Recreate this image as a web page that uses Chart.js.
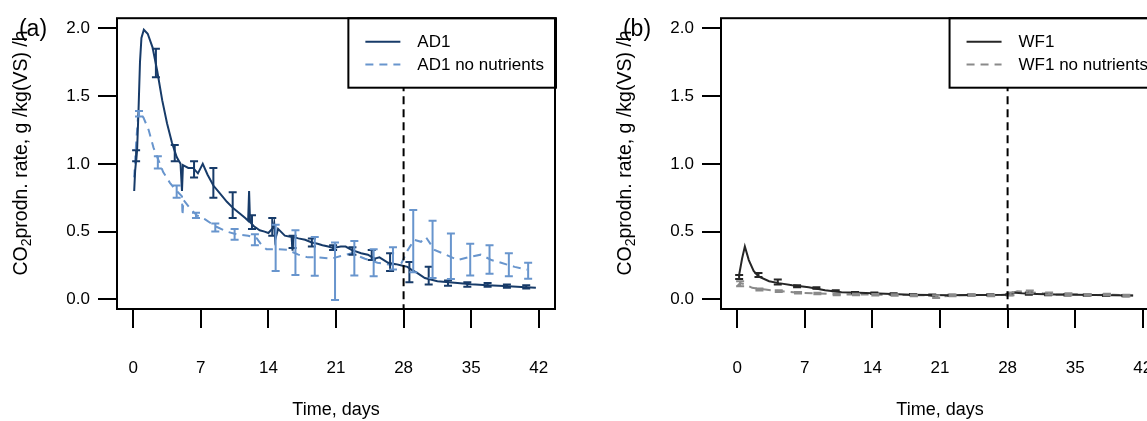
<!DOCTYPE html>
<html>
<head>
<meta charset="utf-8">
<script src="https://cdn.jsdelivr.net/npm/chart.js@4.4.1/dist/chart.umd.min.js"></script>
<style>
  html, body { margin: 0; padding: 0; background: #fff; overflow: hidden; }
  #wrap { position: relative; width: 1147px; height: 421px; overflow: hidden; }
  .panel { position: absolute; top: 0; width: 604px; height: 421px; }
</style>
</head>
<body>
<div id="wrap">
  <div class="panel" style="left:0"><canvas id="chartA" width="604" height="421"></canvas></div>
  <div class="panel" style="left:604px"><canvas id="chartB" width="604" height="421"></canvas></div>
</div>
<script>
// axis ticks
const xTicks = [0, 7, 14, 21, 28, 35, 42];
const yTicks = [0, 0.5, 1.0, 1.5, 2.0];
const cutoffDay = 28;

// AD1 (with nutrients)
const ad1Days = [0.1, 0.2, 0.4, 0.55, 0.7, 0.85, 1.1, 1.5, 2.0, 2.5, 3.0, 3.5, 4.0, 4.5, 4.9, 5.05, 5.15, 5.7, 6.2, 6.7, 7.2, 7.7, 8.3, 9.0, 9.7, 10.4, 11.1, 11.6, 11.9, 12.0, 12.1, 12.5, 13.1, 13.6, 14.0, 14.5, 14.6, 14.7, 15.0, 15.7, 16.4, 16.5, 16.6, 17.1, 17.8, 18.5, 19.1, 19.6, 20.2, 20.7, 21.5, 22.0, 22.6, 23.6, 24.3, 25.0, 25.5, 26.4, 27.2, 27.8, 28.4, 28.8, 29.4, 30.2, 31.5, 33.3, 35.0, 36.7, 38.4, 40.2, 41.7];
const ad1Rate = [0.80, 0.95, 1.10, 1.40, 1.75, 1.93, 1.99, 1.96, 1.86, 1.68, 1.47, 1.30, 1.16, 1.05, 1.00, 0.80, 0.99, 0.97, 0.97, 0.93, 1.00, 0.92, 0.84, 0.78, 0.72, 0.67, 0.63, 0.60, 0.58, 0.80, 0.57, 0.54, 0.51, 0.50, 0.49, 0.53, 0.56, 0.44, 0.52, 0.47, 0.46, 0.36, 0.46, 0.45, 0.44, 0.42, 0.41, 0.40, 0.39, 0.38, 0.39, 0.39, 0.365, 0.34, 0.33, 0.30, 0.31, 0.27, 0.26, 0.25, 0.24, 0.22, 0.195, 0.158, 0.134, 0.122, 0.112, 0.105, 0.098, 0.092, 0.085];
const ad1ErrDays = [0.3, 2.35, 4.3, 6.3, 8.3, 10.3, 12.3, 14.4, 16.5, 18.5, 20.7, 22.7, 24.7, 26.6, 28.6, 30.6, 32.6, 34.6, 36.7, 38.7, 40.7];
const ad1ErrLow = [1.02, 1.64, 1.02, 0.90, 0.75, 0.60, 0.52, 0.47, 0.38, 0.39, 0.365, 0.33, 0.29, 0.21, 0.126, 0.11, 0.10, 0.093, 0.093, 0.085, 0.08];
const ad1ErrHigh = [1.10, 1.85, 1.14, 1.02, 0.97, 0.79, 0.62, 0.60, 0.47, 0.45, 0.40, 0.385, 0.365, 0.34, 0.275, 0.24, 0.14, 0.126, 0.12, 0.11, 0.105];

// AD1 no nutrients
const ad1nnDays = [0.1, 0.3, 0.5, 0.7, 1.07, 1.6, 2.1, 2.6, 3.1, 3.8, 4.5, 5.05, 5.1, 5.2, 5.9, 6.6, 7.45, 8.5, 9.7, 10.7, 11.9, 12.8, 13.3, 13.8, 15.0, 16.0, 17.1, 18.1, 19.1, 20.5, 21.5, 22.6, 24.0, 25.3, 26.7, 27.8, 28.4, 29.1, 29.8, 30.3, 31.2, 32.2, 33.6, 35.0, 36.0, 37.1, 38.1, 39.5, 40.8];
const ad1nnRate = [0.90, 1.15, 1.35, 1.38, 1.34, 1.25, 1.12, 1.03, 0.94, 0.86, 0.80, 0.76, 0.62, 0.735, 0.67, 0.62, 0.59, 0.54, 0.50, 0.48, 0.47, 0.45, 0.40, 0.37, 0.37, 0.365, 0.33, 0.31, 0.31, 0.30, 0.32, 0.34, 0.30, 0.27, 0.255, 0.27, 0.36, 0.44, 0.425, 0.46, 0.365, 0.335, 0.29, 0.316, 0.33, 0.29, 0.27, 0.24, 0.22];
const ad1nnErrDays = [0.6, 2.55, 4.5, 6.5, 8.5, 10.5, 12.6, 14.75, 16.8, 18.8, 20.9, 22.9, 24.9, 26.9, 29.0, 31.0, 32.9, 34.9, 36.9, 38.9, 40.9];
const ad1nnErrLow = [1.35, 0.966, 0.75, 0.60, 0.50, 0.44, 0.40, 0.21, 0.18, 0.175, -0.005, 0.177, 0.17, 0.22, 0.20, 0.158, 0.151, 0.177, 0.19, 0.17, 0.153];
const ad1nnErrHigh = [1.39, 1.056, 0.84, 0.64, 0.56, 0.52, 0.48, 0.55, 0.51, 0.46, 0.42, 0.43, 0.37, 0.385, 0.66, 0.58, 0.487, 0.41, 0.40, 0.34, 0.27];

// WF1 (with nutrients)
const wf1Days = [0.17, 0.5, 0.79, 1.2, 1.7, 2.2, 3.3, 4.3, 5.7, 7.4, 9.1, 10.8, 12.6, 14, 16, 18, 20, 22, 24, 26, 28, 28.5, 29.5, 31, 33, 35, 37, 39, 41];
const wf1Rate = [0.17, 0.30, 0.39, 0.29, 0.21, 0.17, 0.134, 0.12, 0.105, 0.09, 0.068, 0.053, 0.049, 0.045, 0.04, 0.035, 0.032, 0.03, 0.032, 0.033, 0.035, 0.05, 0.045, 0.04, 0.036, 0.035, 0.033, 0.03, 0.028];
const wf1ErrDays = [0.2, 2.2, 4.2, 6.2, 8.2, 10.2, 12.2, 14.2, 16.2, 18.2, 20.2, 22.2, 24.2, 26.2, 28.2, 30.2, 32.2, 34.2, 36.2, 38.2, 40.2];
const wf1ErrLow = [0.15, 0.165, 0.11, 0.09, 0.078, 0.06, 0.045, 0.04, 0.035, 0.03, 0.028, 0.026, 0.028, 0.028, 0.03, 0.035, 0.03, 0.028, 0.026, 0.025, 0.024];
const wf1ErrHigh = [0.18, 0.195, 0.146, 0.105, 0.09, 0.068, 0.055, 0.05, 0.045, 0.04, 0.036, 0.034, 0.036, 0.038, 0.04, 0.05, 0.042, 0.04, 0.036, 0.034, 0.032];

// WF1 no nutrients
const wf1nnDays = [0.0, 0.3, 0.86, 1.55, 2.9, 4.3, 6.4, 8.4, 10.5, 12.6, 14.5, 17, 19.5, 21, 23, 25, 27, 28.3, 29, 30, 31.5, 33, 35, 37, 39, 41];
const wf1nnRate = [0.097, 0.12, 0.11, 0.085, 0.073, 0.061, 0.049, 0.044, 0.036, 0.036, 0.035, 0.033, 0.03, 0.022, 0.03, 0.032, 0.03, 0.04, 0.06, 0.055, 0.045, 0.035, 0.038, 0.032, 0.035, 0.028];
const wf1nnErrDays = [0.3, 2.3, 4.3, 6.3, 8.3, 10.3, 12.3, 14.3, 16.3, 18.3, 20.6, 22.3, 24.3, 26.3, 28.3, 30.3, 32.3, 34.3, 36.3, 38.3, 40.3];
const wf1nnErrLow = [0.097, 0.065, 0.055, 0.044, 0.038, 0.03, 0.03, 0.028, 0.026, 0.024, 0.01, 0.024, 0.026, 0.024, 0.03, 0.045, 0.035, 0.03, 0.026, 0.028, 0.022];
const wf1nnErrHigh = [0.134, 0.08, 0.068, 0.054, 0.048, 0.042, 0.042, 0.04, 0.038, 0.036, 0.03, 0.036, 0.038, 0.036, 0.05, 0.065, 0.05, 0.045, 0.04, 0.042, 0.034];

const FONT = "'Liberation Sans', Arial, sans-serif";

function toPoints(xs, ys) {
    return xs.map((x, i) => ({ x: x, y: ys[i] }));
}

function series(label, xs, ys, color, dash, errDays, errLow, errHigh) {
    return {
        label: label,
        data: toPoints(xs, ys),
        showLine: true,
        borderColor: color,
        backgroundColor: color,
        borderWidth: 2,
        borderDash: dash,
        pointRadius: 0,
        tension: 0,
        fill: false,
        errDays: errDays,
        errLow: errLow,
        errHigh: errHigh
    };
}

// error bars, cutoff line, legend box, frame, panel tag and y title
const panelDecor = {
    id: "panelDecor",
    afterDatasetsDraw(chart) {
        const ctx = chart.ctx;
        const xs = chart.scales.x, ys = chart.scales.y;
        chart.data.datasets.forEach(ds => {
            ctx.save();
            ctx.strokeStyle = ds.borderColor;
            ctx.lineWidth = 2;
            ctx.setLineDash([]);
            ds.errDays.forEach((d, i) => {
                const px = xs.getPixelForValue(d);
                const lo = ys.getPixelForValue(ds.errLow[i]);
                const hi = ys.getPixelForValue(ds.errHigh[i]);
                ctx.beginPath();
                ctx.moveTo(px, lo); ctx.lineTo(px, hi);
                ctx.moveTo(px - 4, lo); ctx.lineTo(px + 4, lo);
                ctx.moveTo(px - 4, hi); ctx.lineTo(px + 4, hi);
                ctx.stroke();
            });
            ctx.restore();
        });
    },
    afterDraw(chart, args, opts) {
        const ctx = chart.ctx;
        const area = chart.chartArea;
        const xs = chart.scales.x;
        ctx.save();

        // dashed cutoff line
        const cx = xs.getPixelForValue(opts.cutoff);
        ctx.strokeStyle = "#000";
        ctx.lineWidth = 2;
        ctx.setLineDash([8, 5]);
        ctx.beginPath();
        ctx.moveTo(cx, area.top);
        ctx.lineTo(cx, area.bottom);
        ctx.stroke();
        ctx.setLineDash([]);

        // legend
        ctx.font = "17px " + FONT;
        const items = chart.data.datasets;
        let maxW = 0;
        items.forEach(ds => { maxW = Math.max(maxW, ctx.measureText(ds.label).width); });
        const lw = 69 + maxW + 12;
        const lx = area.right + 1 - lw;
        const ly = area.top;
        const lh = 69.5;
        ctx.fillStyle = "#fff";
        ctx.fillRect(lx, ly, lw, lh);
        ctx.strokeStyle = "#000";
        ctx.lineWidth = 2;
        ctx.strokeRect(lx, ly, lw, lh);
        items.forEach((ds, i) => {
            const ry = ly + 23.5 + i * 22.7;
            ctx.strokeStyle = ds.borderColor;
            ctx.lineWidth = 2;
            ctx.setLineDash(ds.borderDash || []);
            ctx.beginPath();
            ctx.moveTo(lx + 17, ry);
            ctx.lineTo(lx + 52, ry);
            ctx.stroke();
            ctx.setLineDash([]);
            ctx.fillStyle = "#000";
            ctx.textAlign = "left";
            ctx.textBaseline = "middle";
            ctx.fillText(ds.label, lx + 69, ry + 1);
        });

        // frame
        ctx.strokeStyle = "#000";
        ctx.lineWidth = 2;
        ctx.strokeRect(area.left, area.top, area.right - area.left, area.bottom - area.top);

        // y title with subscript
        ctx.translate(22, 153);
        ctx.rotate(-Math.PI / 2);
        const big = "19.5px " + FONT, small = "14px " + FONT;
        ctx.font = big;
        const w1 = ctx.measureText("CO").width;
        const w3 = ctx.measureText("prodn. rate, g /kg(VS) /h").width;
        ctx.font = small;
        const w2 = ctx.measureText("2").width;
        let tx = -(w1 + w2 + w3) / 2;
        ctx.fillStyle = "#000";
        ctx.textAlign = "left";
        ctx.textBaseline = "middle";
        ctx.font = big;
        ctx.fillText("CO", tx, 0);
        tx += w1;
        ctx.font = small;
        ctx.fillText("2", tx, 5);
        tx += w2;
        ctx.font = big;
        ctx.fillText("prodn. rate, g /kg(VS) /h", tx, 0);
        ctx.setTransform(1, 0, 0, 1, 0, 0);

        // panel tag
        ctx.font = "23px " + FONT;
        ctx.fillStyle = "#000";
        ctx.textAlign = "center";
        ctx.textBaseline = "middle";
        ctx.fillText(opts.tag, 33, 30);
        ctx.restore();
    }
};

function makeChart(canvasId, tag, datasets) {
    return new Chart(document.getElementById(canvasId).getContext("2d"), {
        type: "scatter",
        data: { datasets: datasets },
        plugins: [panelDecor],
        options: {
            responsive: false,
            animation: false,
            layout: { padding: { top: 16, right: 49, left: 0, bottom: 0 } },
            plugins: {
                legend: { display: false },
                tooltip: { enabled: false },
                panelDecor: { tag: tag, cutoff: cutoffDay }
            },
            scales: {
                x: {
                    type: "linear",
                    min: -1.68,
                    max: 43.68,
                    afterBuildTicks: axis => { axis.ticks = xTicks.map(v => ({ value: v })); },
                    afterFit: scale => { scale.height = 112; },
                    border: { display: false },
                    grid: { drawOnChartArea: false, drawTicks: true, tickLength: 19, color: "#000", lineWidth: 2 },
                    ticks: {
                        autoSkip: false, maxRotation: 0, padding: 30, color: "#000",
                        font: { family: FONT, size: 17 },
                        callback: v => String(v)
                    },
                    title: {
                        display: true, text: "Time, days", color: "#000",
                        font: { family: FONT, size: 18 },
                        padding: { top: 0, bottom: 0 }
                    }
                },
                y: {
                    type: "linear",
                    min: -0.071,
                    max: 2.075,
                    afterBuildTicks: axis => { axis.ticks = yTicks.map(v => ({ value: v })); },
                    afterFit: scale => { scale.width = 117; },
                    border: { display: false },
                    grid: { drawOnChartArea: false, drawTicks: true, tickLength: 19, color: "#000", lineWidth: 2 },
                    ticks: {
                        autoSkip: false, padding: 8, color: "#000",
                        font: { family: FONT, size: 17 },
                        callback: v => v.toFixed(1)
                    }
                }
            }
        }
    });
}

makeChart("chartA", "(a)", [
    series("AD1", ad1Days, ad1Rate, "#173b69", [], ad1ErrDays, ad1ErrLow, ad1ErrHigh),
    series("AD1 no nutrients", ad1nnDays, ad1nnRate, "#6895cd", [8, 6], ad1nnErrDays, ad1nnErrLow, ad1nnErrHigh)
]);

makeChart("chartB", "(b)", [
    series("WF1", wf1Days, wf1Rate, "#262626", [], wf1ErrDays, wf1ErrLow, wf1ErrHigh),
    series("WF1 no nutrients", wf1nnDays, wf1nnRate, "#8a8a8a", [8, 6], wf1nnErrDays, wf1nnErrLow, wf1nnErrHigh)
]);
</script>
</body>
</html>
